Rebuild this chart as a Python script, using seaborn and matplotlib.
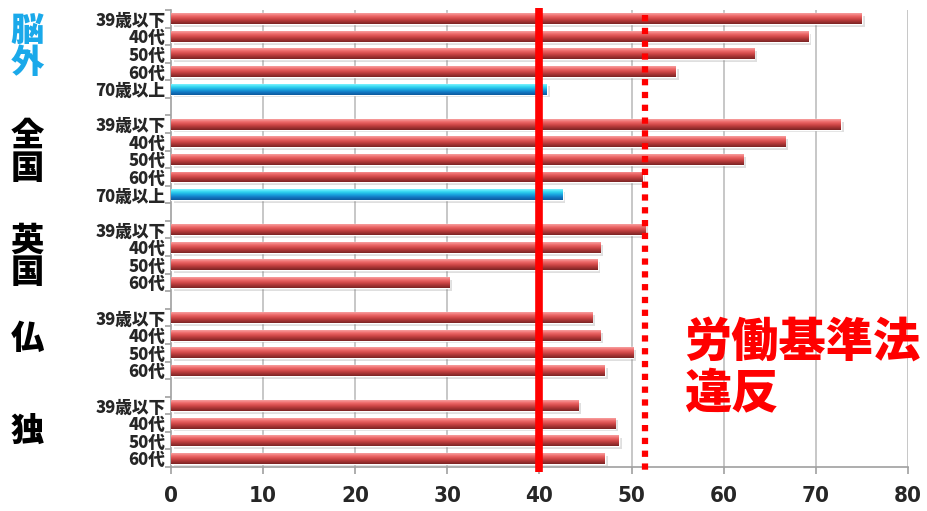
import numpy as np
import pandas as pd
import matplotlib
matplotlib.use("Agg")
import matplotlib.pyplot as plt
import matplotlib.patheffects as pe
from matplotlib.colors import LinearSegmentedColormap
import seaborn as sns

# ---- data ----
groups = ["脳外", "全国", "英国", "仏", "独"]
group_colors = ["#1aa9ea", "black", "black", "black", "black"]
ages_jp = ["39歳以下", "40代", "50代", "60代", "70歳以上"]
ages_eu = ["39歳以下", "40代", "50代", "60代"]
noge_values = [75.0, 69.2, 63.3, 54.8, 40.8]
zenkoku_values = [72.7, 66.7, 62.1, 51.2, 42.5]
uk_values = [51.5, 46.6, 46.3, 30.2]
fr_values = [45.7, 46.6, 50.2, 47.1]
de_values = [44.2, 48.2, 48.6, 47.1]
legal_limit = 40
violation_line = 51.5
xticks = [0, 10, 20, 30, 40, 50, 60, 70, 80]
note_text = "労働基準法\n違反"

group_ages = [ages_jp, ages_jp, ages_eu, ages_eu, ages_eu]
group_values = [noge_values, zenkoku_values, uk_values, fr_values, de_values]

rows = []
order = []
labels = []
for gi, (g, ages, vals) in enumerate(zip(groups, group_ages, group_values)):
    for a, v in zip(ages, vals):
        key = f"{g}|{a}"
        rows.append({"key": key, "value": v, "kind": "old" if a == "70歳以上" else "main"})
        order.append(key)
        labels.append(a)
    if gi < len(groups) - 1:
        gap = f"gap{gi}"
        rows.append({"key": gap, "value": np.nan, "kind": "main"})
        order.append(gap)
        labels.append("")
df = pd.DataFrame(rows)

sns.set_theme(style="white")
plt.rcParams["font.family"] = ["Noto Sans CJK JP", "DejaVu Sans"]

fig = plt.figure(figsize=(9.28, 5.11), dpi=100)
ax = fig.add_axes([171 / 928, 1 - 467 / 511, (908 - 171) / 928, (467 - 10) / 511])

sns.barplot(data=df, x="value", y="key", order=order, hue="kind",
            hue_order=["main", "old"], palette={"main": "#c94444", "old": "#1a8fd6"},
            dodge=False, width=0.62, legend=False, ax=ax, zorder=3)

red_cmap = LinearSegmentedColormap.from_list(
    "redbar", ["#f7a0a0", "#ee6a6a", "#d24a4a", "#a83434", "#7a2424"])
blue_cmap = LinearSegmentedColormap.from_list(
    "bluebar", ["#7ff4ff", "#31d6f0", "#1aa6e0", "#1276c2", "#0e5a9c"])
grad = np.linspace(0, 1, 64).reshape(-1, 1)

for p in list(ax.patches):
    w = p.get_width()
    if not np.isfinite(w) or w == 0:
        continue
    y0 = p.get_y()
    h = p.get_height()
    fc = p.get_facecolor()
    cmap = blue_cmap if fc[2] > fc[0] else red_cmap
    p.set_path_effects([pe.SimplePatchShadow(offset=(2, -2), alpha=0.25, shadow_rgbFace="gray"),
                        pe.Normal()])
    im = ax.imshow(grad, cmap=cmap, aspect="auto",
                   extent=(p.get_x(), p.get_x() + w, y0 + h, y0), zorder=4,
                   interpolation="bilinear")
    im.set_clip_path(p)

ax.set_xlim(0, 80)
ax.set_ylim(len(order) - 0.5, -0.5)
ax.set_aspect("auto")

# vertical grid
for xv in xticks[1:]:
    ax.axvline(xv, color="#bdbdbd", lw=1.2, zorder=1)

# reference lines
ax.plot([legal_limit, legal_limit], [-0.6, len(order) - 0.2], color="#ff0000", lw=5.5,
        zorder=6, clip_on=False, solid_capstyle="butt")
ax.plot([violation_line, violation_line], [-0.2, len(order) - 0.2], color="#ff0000", lw=4.5,
        linestyle=(0, (1, 1.05)), zorder=6, clip_on=False, dash_capstyle="butt")

# axes styling
for s in ["top", "right"]:
    ax.spines[s].set_visible(False)
for s in ["left", "bottom"]:
    ax.spines[s].set_color("#a0a0a0")
    ax.spines[s].set_linewidth(1.2)

ax.set_xticks(xticks)
ax.set_xticklabels([str(t) for t in xticks], fontsize=16, fontweight="heavy",
                   fontstretch="condensed", family=["DejaVu Sans"])
ax.tick_params(axis="x", length=5, color="#a0a0a0", width=1.2, pad=9, bottom=True)

ax.set_yticks(range(len(order)))
ax.set_yticklabels(labels, fontsize=12, fontweight="heavy")
ax.tick_params(axis="y", length=0, pad=4)
ax.set_yticks(np.arange(-0.5, len(order), 1.0), minor=True)
ax.tick_params(axis="y", which="minor", length=4, color="#a0a0a0", width=1.2, left=True)
ax.set_xlabel("")
ax.set_ylabel("")

# group labels on the far left, stacked vertically
group_label_pos = [(30, 62, "脳", "外"), (135, 168, "全", "国"), (240, 272, "英", "国")]
for (ya, yb, c1, c2), col in zip(group_label_pos, group_colors[:3]):
    fig.text(27 / 928, 1 - ya / 511, c1, ha="center", va="center", fontsize=24,
             fontweight="heavy", color=col)
    fig.text(27 / 928, 1 - yb / 511, c2, ha="center", va="center", fontsize=24,
             fontweight="heavy", color=col)
fig.text(27 / 928, 1 - 338 / 511, "仏", ha="center", va="center", fontsize=24,
         fontweight="heavy", color=group_colors[3])
fig.text(27 / 928, 1 - 430 / 511, "独", ha="center", va="center", fontsize=24,
         fontweight="heavy", color=group_colors[4])

fig.text(684 / 928, 1 - 368 / 511, note_text, ha="left", va="center", fontsize=34,
         fontweight="heavy", color="#ff0000", linespacing=1.05)

fig.savefig("out.png", dpi=100)
